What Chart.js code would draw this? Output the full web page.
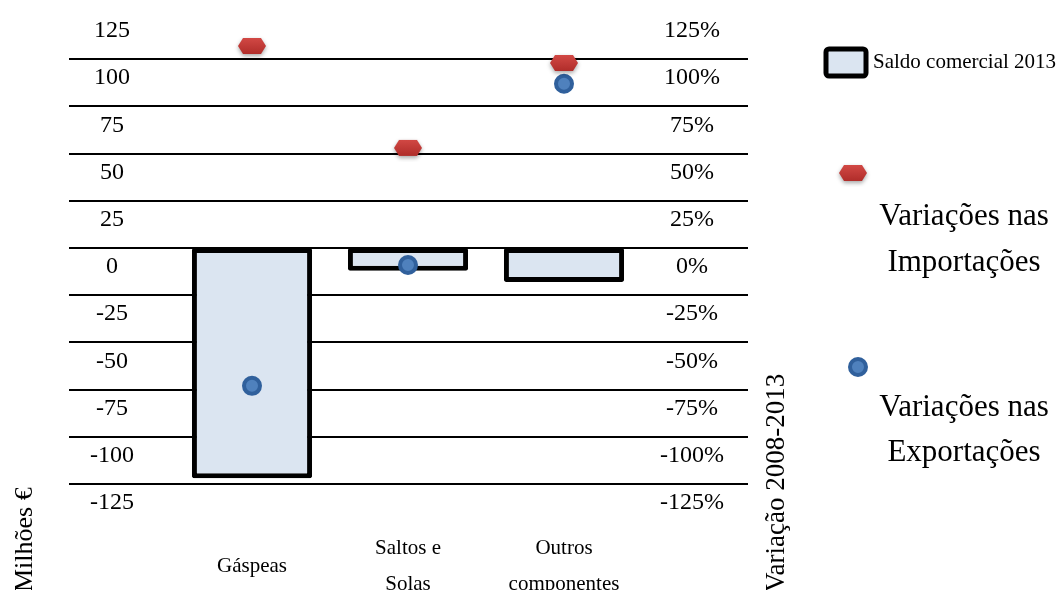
<!DOCTYPE html>
<html>
<head>
<meta charset="utf-8">
<script src="https://cdn.jsdelivr.net/npm/chart.js@4.4.1/dist/chart.umd.min.js"></script>
<style>
  html, body { margin: 0; padding: 0; background: #fff; }
  #wrap { width: 1061px; height: 590px; position: relative; }
</style>
</head>
<body>
<div id="wrap"><canvas id="chart"></canvas></div>
<script>
// data
const categories = [['Gáspeas'], ['Saltos e', 'Solas'], ['Outros', 'componentes']];
const saldoComercial2013 = [-122, -12, -18];   // Milhões €
const variacaoImportacoes = [107, 53, 98];     // %
const variacaoExportacoes = [-73, -9, 87];     // %

const axisMin = -125;
const axisMax = 125;
const axisStep = 25;

const serif = "'Liberation Serif', 'Times New Roman', serif";
Chart.defaults.font.family = serif;
Chart.defaults.color = '#000';

// red "hexagon" marker used by the imports series
const hexMarker = (() => {
  const c = document.createElement('canvas');
  c.width = 36;
  c.height = 28;
  const g = c.getContext('2d');
  g.shadowColor = 'rgba(0,0,0,0.35)';
  g.shadowBlur = 4;
  g.shadowOffsetY = 2;
  const grd = g.createLinearGradient(0, 5, 0, 22);
  grd.addColorStop(0, '#d44a46');
  grd.addColorStop(1, '#b02d2a');
  g.fillStyle = grd;
  g.beginPath();
  g.moveTo(4, 14);
  g.lineTo(9, 6);
  g.lineTo(27, 6);
  g.lineTo(32, 14);
  g.lineTo(27, 22);
  g.lineTo(9, 22);
  g.closePath();
  g.fill();
  return c;
})();

// gridlines run wider than the plot area, under the tick labels
const wideGrid = {
  id: 'wideGrid',
  beforeDatasetsDraw(chart) {
    const { ctx } = chart;
    const y = chart.scales.y;
    ctx.save();
    ctx.strokeStyle = '#000';
    ctx.lineWidth = 2;
    y.ticks.forEach((t) => {
      if (t.value >= axisMax) return;
      const py = Math.round(y.getPixelForValue(t.value));
      ctx.beginPath();
      ctx.moveTo(69, py);
      ctx.lineTo(748, py);
      ctx.stroke();
    });
    ctx.restore();
  },
};

// legend and axis titles placed like the original
const sideLegend = {
  id: 'sideLegend',
  afterDraw(chart) {
    const { ctx } = chart;
    const ds = chart.data.datasets;
    ctx.save();

    // bar legend
    ctx.lineWidth = 5;
    ctx.strokeStyle = '#000';
    ctx.fillStyle = ds[2].backgroundColor;
    ctx.beginPath();
    ctx.roundRect(826, 49, 40, 27, 3);
    ctx.fill();
    ctx.stroke();
    ctx.fillStyle = '#000';
    ctx.font = `21px ${serif}`;
    ctx.textAlign = 'left';
    ctx.textBaseline = 'middle';
    ctx.fillText(ds[2].label, 873, 62);

    // imports
    ctx.drawImage(hexMarker, 853 - 18, 173 - 14);
    ctx.font = `31px ${serif}`;
    ctx.textAlign = 'center';
    ctx.fillText('Variações nas', 964, 217);
    ctx.fillText('Importações', 964, 263);

    // exports
    ctx.beginPath();
    ctx.arc(858, 367, 8, 0, Math.PI * 2);
    ctx.fillStyle = ds[1].pointBackgroundColor;
    ctx.fill();
    ctx.lineWidth = 4;
    ctx.strokeStyle = ds[1].pointBorderColor;
    ctx.stroke();
    ctx.fillStyle = '#000';
    ctx.fillText('Variações nas', 964, 408);
    ctx.fillText('Exportações', 964, 453);

    // axis titles, rotated, anchored at the bottom edge
    ctx.textAlign = 'left';
    ctx.textBaseline = 'middle';
    ctx.font = `26px ${serif}`;
    ctx.translate(25, 592);
    ctx.rotate(-Math.PI / 2);
    ctx.fillText('Milhões €', 0, 0);
    ctx.setTransform(1, 0, 0, 1, 0, 0);
    ctx.font = `27px ${serif}`;
    ctx.translate(777, 592);
    ctx.rotate(-Math.PI / 2);
    ctx.fillText('Variação 2008-2013', 0, 0);
    ctx.restore();
  },
};

new Chart(document.getElementById('chart'), {
  data: {
    labels: categories,
    datasets: [
      {
        type: 'line',
        label: 'Variações nas Importações',
        data: variacaoImportacoes,
        yAxisID: 'y1',
        showLine: false,
        pointStyle: hexMarker,
        pointRadius: 10,
        order: 0,
      },
      {
        type: 'line',
        label: 'Variações nas Exportações',
        data: variacaoExportacoes,
        yAxisID: 'y1',
        showLine: false,
        pointStyle: 'circle',
        pointRadius: 8,
        pointBorderWidth: 4,
        pointBackgroundColor: '#4f81bd',
        pointBorderColor: '#30609c',
        order: 0,
      },
      {
        type: 'bar',
        label: 'Saldo comercial 2013',
        data: saldoComercial2013,
        yAxisID: 'y',
        backgroundColor: '#dbe5f1',
        borderColor: '#000',
        borderWidth: 5,
        borderRadius: 2,
        borderSkipped: false,
        barPercentage: 0.77,
        categoryPercentage: 1,
        order: 1,
      },
    ],
  },
  options: {
    responsive: true,
    maintainAspectRatio: false,
    animation: false,
    layout: { padding: { top: 10, left: 0, right: 0, bottom: 0 } },
    plugins: {
      legend: { display: false },
      tooltip: { enabled: false },
    },
    scales: {
      x: {
        type: 'category',
        offset: true,
        grid: { display: false, drawTicks: false },
        border: { display: false },
        ticks: {
          autoSkip: false,
          maxRotation: 0,
          crossAlign: 'center',
          padding: 64,
          font: { size: 21, lineHeight: 1.72 },
        },
        afterFit(s) {
          s.height = 106;
          s.paddingLeft = 0;
          s.paddingRight = 0;
        },
      },
      y: {
        position: 'left',
        min: axisMin,
        max: axisMax,
        grid: { display: false, drawTicks: false },
        border: { display: false },
        ticks: {
          stepSize: axisStep,
          crossAlign: 'center',
          labelOffset: 19,
          padding: 40,
          font: { size: 24 },
        },
        afterFit(s) {
          s.width = 174;
          s.paddingTop = 0;
          s.paddingBottom = 0;
        },
      },
      y1: {
        position: 'right',
        min: axisMin,
        max: axisMax,
        grid: { display: false, drawTicks: false },
        border: { display: false },
        ticks: {
          stepSize: axisStep,
          crossAlign: 'center',
          labelOffset: 19,
          padding: 18,
          font: { size: 24 },
          callback: (v) => v + '%',
        },
        afterFit(s) {
          s.width = 419;
          s.paddingTop = 0;
          s.paddingBottom = 0;
        },
      },
    },
  },
  plugins: [wideGrid, sideLegend],
});
</script>
</body>
</html>
